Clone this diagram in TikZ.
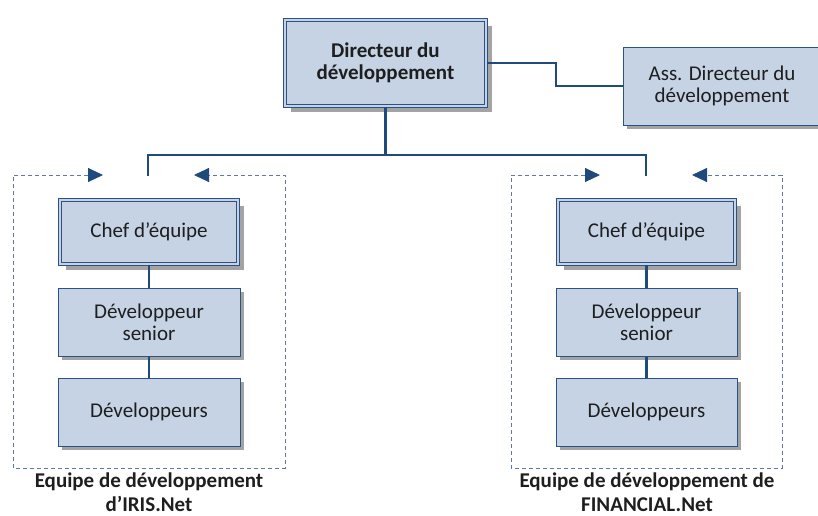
\documentclass[tikz,border=0pt]{standalone}
\usepackage{fontspec}
\setmainfont{Carlito}
\usetikzlibrary{arrows.meta,shadows}
\definecolor{boxfill}{HTML}{C5D3E5}
\definecolor{boxline}{HTML}{2B5282}
\definecolor{conn}{HTML}{1F4A7C}
\definecolor{dashc}{HTML}{5A7BA3}
\definecolor{shadowc}{HTML}{A3A3A3}
\definecolor{txt}{HTML}{1E1E1E}
\tikzset{
  base/.style={fill=boxfill, text=txt, align=center, inner sep=0pt,
    font=\fontsize{21}{22}\selectfont},
  singlebox/.style={base, draw=boxline, line width=1pt,
    drop shadow={shadow xshift=3.5pt, shadow yshift=-3.5pt, fill=shadowc, opacity=1}},
  doublebox/.style={base, draw=boxline, line width=1pt, double=boxfill, double distance=2pt,
    drop shadow={shadow xshift=6pt, shadow yshift=-6pt, fill=shadowc, opacity=1}},
  link/.style={draw=conn, line width=2.8pt},
  frame/.style={draw=dashc, line width=0.9pt, dash pattern=on 4pt off 3pt,
    {Triangle[length=15pt,width=14pt,color=conn]}-{Triangle[length=15pt,width=14pt,color=conn]}},
  lab/.style={text=txt, align=center, font=\fontsize{21}{23.5}\selectfont\bfseries}
}
\begin{document}
\begin{tikzpicture}[x=1pt,y=-1pt]
\useasboundingbox (0,0) rectangle (818,515);
% dashed team frames
\draw[frame] (103,175) -- (13,175) -- (13,468) -- (285,468) -- (285,175) -- (194,175);
\draw[frame] (600,175) -- (511,175) -- (511,468) -- (782,468) -- (782,175) -- (692,175);
% boxes
\node[doublebox, minimum width=201pt, minimum height=86pt] (dir) at (385.5,63) {\bfseries Directeur du\\\bfseries développement};
\node[singlebox, minimum width=198pt, minimum height=78pt] (ass) at (722,86) {Ass. Directeur du\\développement};
\node[doublebox, minimum width=178pt, minimum height=64pt] (chefL) at (149,232) {Chef d’équipe};
\node[singlebox, minimum width=182pt, minimum height=68pt] (seniorL) at (149,322) {Développeur\\senior};
\node[singlebox, minimum width=182pt, minimum height=68pt] (devL) at (149,412) {Développeurs};
\node[doublebox, minimum width=177pt, minimum height=64pt] (chefR) at (646.5,232) {Chef d’équipe};
\node[singlebox, minimum width=181pt, minimum height=68pt] (seniorR) at (646.5,322) {Développeur\\senior};
\node[singlebox, minimum width=181pt, minimum height=68pt] (devR) at (646.5,412) {Développeurs};
% labels
\node[lab] (labL) at (149,492) {Equipe de développement\\d’IRIS.Net};
\node[lab] (labR) at (647,492) {Equipe de développement de\\FINANCIAL.Net};
% connectors
\coordinate (j1) at (556,75);
\coordinate (bus) at (386,155);
\coordinate (topL) at (148,176);
\coordinate (topR) at (646,176);
\draw[link] (dir.east) -| (j1) |- (ass.west);
\draw[link] (dir.south) -- (dir.south |- bus);
\draw[link] (topL) -- (topL |- bus) -- (topR |- bus) -- (topR);
\draw[link] (chefL) -- (seniorL);
\draw[link] (seniorL) -- (devL);
\draw[link] (chefR) -- (seniorR);
\draw[link] (seniorR) -- (devR);
\end{tikzpicture}
\end{document}
